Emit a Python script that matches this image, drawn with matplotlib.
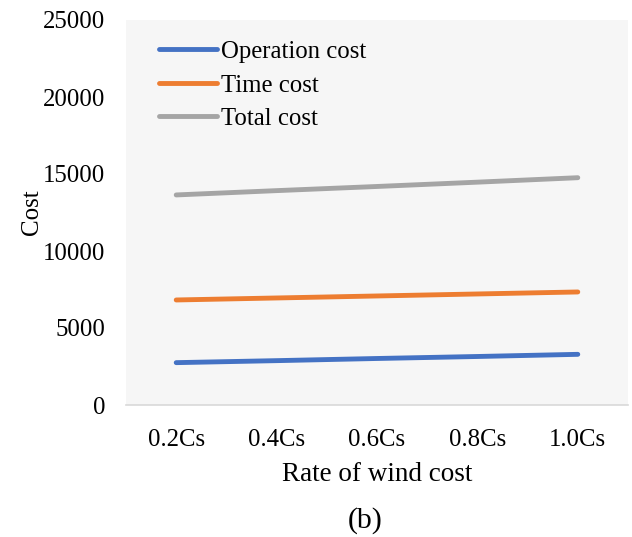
import matplotlib
matplotlib.use("Agg")
import matplotlib.pyplot as plt

categories = ["0.2Cs", "0.4Cs", "0.6Cs", "0.8Cs", "1.0Cs"]
operation_cost = [2750, 2880, 3020, 3150, 3290]
time_cost = [6820, 6950, 7080, 7210, 7340]
total_cost = [13640, 13920, 14190, 14470, 14760]
y_ticks = [0, 5000, 10000, 15000, 20000, 25000]

plt.rcParams["font.family"] = ["Liberation Serif", "DejaVu Serif"]

fig = plt.figure(figsize=(6.32, 5.37), dpi=100)
ax = fig.add_axes([126 / 632, 1 - 405 / 537, 502 / 632, 385 / 537])
ax.set_facecolor("#F6F6F6")

x = list(range(len(categories)))
ax.plot(x, operation_cost, color="#4472C4", lw=3.5, solid_capstyle="round", label="Operation cost")
ax.plot(x, time_cost, color="#ED7D31", lw=3.5, solid_capstyle="round", label="Time cost")
ax.plot(x, total_cost, color="#A5A5A5", lw=3.5, solid_capstyle="round", label="Total cost")

ax.set_xlim(-0.5, len(categories) - 0.5)
ax.set_ylim(0, 25000)
ax.set_xticks(x)
ax.set_xticklabels(categories)
ax.set_yticks(y_ticks)
ax.tick_params(axis="both", length=0, labelsize=17.8)
ax.tick_params(axis="x", pad=17)
ax.tick_params(axis="y", pad=15)

for side in ("top", "right", "left"):
    ax.spines[side].set_visible(False)
ax.spines["bottom"].set_color("#D9D9D9")
ax.spines["bottom"].set_linewidth(1.2)

ax.set_xlabel("Rate of wind cost", fontsize=19.5, labelpad=8)
ax.set_ylabel("Cost", fontsize=18, labelpad=0)

leg = ax.legend(loc="upper left", bbox_to_anchor=(0.066, 0.946), frameon=False,
                fontsize=17.8, handlelength=2.35, handletextpad=0.15,
                labelspacing=0.45, borderpad=0, borderaxespad=0)

fig.text(365 / 632, 1 - 521 / 537, "(b)", fontsize=21.5, ha="center", va="center")

fig.savefig("out.png", dpi=100, facecolor="white")
